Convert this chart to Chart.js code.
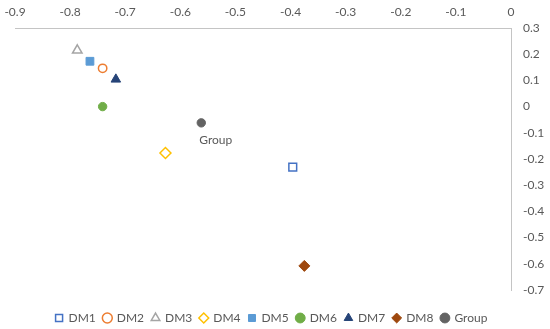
<!DOCTYPE html>
<html>
<head>
<meta charset="utf-8">
<script src="https://cdn.jsdelivr.net/npm/chart.js@4.4.0/dist/chart.umd.min.js"></script>
<style>
  html, body { margin: 0; padding: 0; background: #fff; }
  #wrap { width: 550px; height: 329px; }
</style>
</head>
<body>
<div id="wrap"><canvas id="chart"></canvas></div>
<script>
const SERIES_NAMES = ['DM1', 'DM2', 'DM3', 'DM4', 'DM5', 'DM6', 'DM7', 'DM8', 'Group'];
const X_VALUES = [-0.396, -0.741, -0.787, -0.627, -0.764, -0.741, -0.717, -0.375, -0.562];
const Y_VALUES = [-0.231, 0.146, 0.215, -0.177, 0.173, 0.0, 0.104, -0.608, -0.062];
const X_TICKS = [-0.9, -0.8, -0.7, -0.6, -0.5, -0.4, -0.3, -0.2, -0.1, 0];
const Y_TICKS = [0.3, 0.2, 0.1, 0, -0.1, -0.2, -0.3, -0.4, -0.5, -0.6, -0.7];
const POINT_LABEL = 'Group';

// marker look, one per series
const COLORS = ['#4472C4', '#ED7D31', '#A5A5A5', '#FFC000', '#5B9BD5', '#70AD47', '#264478', '#9E480E', '#636363'];
const STYLES = ['rect', 'circle', 'triangle', 'rectRot', 'rect', 'circle', 'triangle', 'rectRot', 'circle'];
const HOLLOW = [true, true, true, true, false, false, false, false, false];
const RADII = { rect: 5.5, circle: 4.2, triangle: 5.5, rectRot: 5.5 };

const FONT = 'Lato, "Open Sans", sans-serif';
const TEXT = '#595959';
const AXIS = '#C4C4C4';

const datasets = SERIES_NAMES.map((name, i) => ({
  label: name,
  data: [{ x: X_VALUES[i], y: Y_VALUES[i] }],
  pointStyle: STYLES[i],
  pointRadius: RADII[STYLES[i]],
  pointHoverRadius: RADII[STYLES[i]],
  borderColor: COLORS[i],
  backgroundColor: HOLLOW[i] ? '#ffffff' : COLORS[i],
  borderWidth: HOLLOW[i] ? 1.5 : 1
}));

const groupLabel = {
  id: 'groupLabel',
  afterDatasetsDraw(chart) {
    const idx = SERIES_NAMES.indexOf(POINT_LABEL);
    const pt = chart.getDatasetMeta(idx).data[0];
    const ctx = chart.ctx;
    ctx.save();
    ctx.font = '12px ' + FONT;
    ctx.fillStyle = TEXT;
    ctx.textAlign = 'left';
    ctx.textBaseline = 'middle';
    ctx.fillText(POINT_LABEL, pt.x - 2, pt.y + 17);
    ctx.restore();
  }
};

// reserve a fixed band for the legend, then nudge it into place
const legendBand = {
  id: 'legendBand',
  afterInit(chart) {
    const lg = chart.legend;
    const fit = lg.fit;
    lg.fit = function () { fit.call(this); this.height = 39; };
  },
  afterLayout(chart) {
    const lg = chart.legend;
    lg.top += 14; lg.bottom += 14;
    lg.left -= 11; lg.right -= 11;
  }
};

const fmt = v => String(Math.round(v * 10) / 10);

new Chart(document.getElementById('chart'), {
  type: 'scatter',
  data: { datasets },
  plugins: [groupLabel, legendBand],
  options: {
    responsive: true,
    maintainAspectRatio: false,
    animation: false,
    layout: { padding: { left: 15, right: 0, top: 0, bottom: 0 } },
    plugins: {
      legend: {
        position: 'bottom',
        labels: {
          usePointStyle: true,
          boxWidth: 7,
          boxHeight: 7,
          padding: 8,
          color: TEXT,
          font: { family: FONT, size: 12 }
        }
      },
      tooltip: { enabled: false }
    },
    scales: {
      x: {
        type: 'linear',
        position: 'top',
        min: X_TICKS[0],
        max: X_TICKS[X_TICKS.length - 1],
        afterBuildTicks: s => { s.ticks = X_TICKS.map(v => ({ value: v })); },
        afterFit: s => { s.height = 28; s.paddingLeft = 0; s.paddingRight = 0; },
        grid: { display: false, drawTicks: false },
        border: { display: true, color: AXIS, width: 1 },
        ticks: { padding: 9, color: TEXT, font: { family: FONT, size: 12 }, callback: fmt, maxRotation: 0 }
      },
      y: {
        type: 'linear',
        position: 'right',
        min: Y_TICKS[Y_TICKS.length - 1],
        max: Y_TICKS[0],
        afterBuildTicks: s => { s.ticks = Y_TICKS.slice().reverse().map(v => ({ value: v })); },
        afterFit: s => { s.width = 39; },
        grid: { display: false, drawTicks: false },
        border: { display: true, color: AXIS, width: 1 },
        ticks: { padding: 12, color: TEXT, font: { family: FONT, size: 12 }, callback: fmt, crossAlign: 'near' }
      }
    }
  }
});
</script>
</body>
</html>
